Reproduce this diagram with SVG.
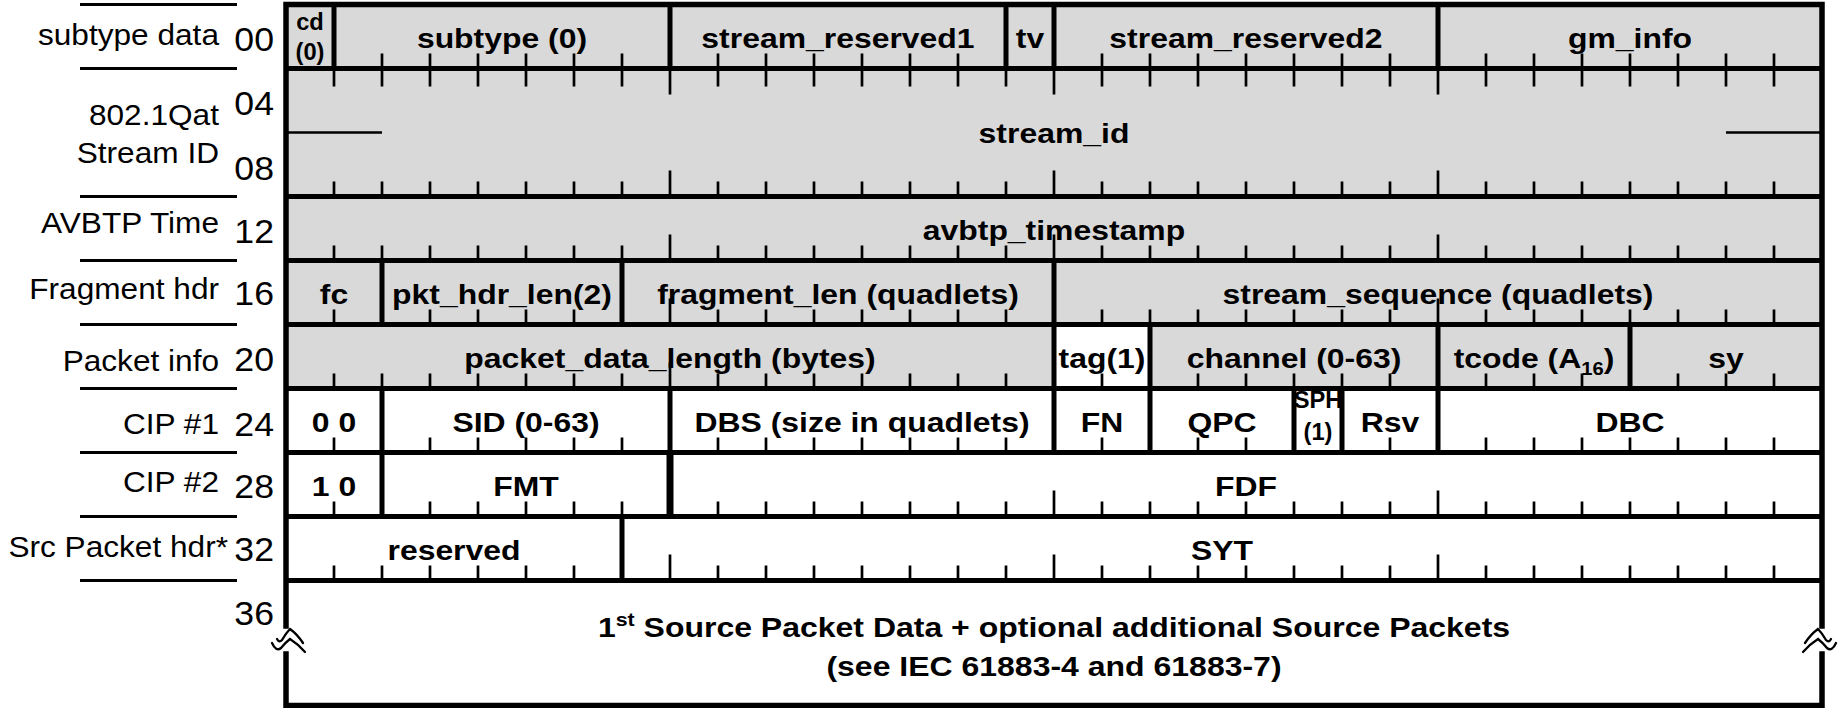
<svg xmlns="http://www.w3.org/2000/svg" xmlns:xlink="http://www.w3.org/1999/xlink" width="1843" height="708" viewBox="0 0 1843 708">
<style>
text { font-family: "Liberation Sans", Arial, Helvetica, sans-serif; fill: #000; }
.f { font-weight: bold; font-size: 28.5px; text-anchor: middle; transform-box: fill-box; transform-origin: 50% 50%; transform: scaleX(1.12); }
.sm { font-size: 23px; transform: scaleX(1.03); }
.big { font-size: 27px; transform: scaleX(1.185); }
.lb { font-size: 29px; text-anchor: end; transform-box: fill-box; transform-origin: 100% 50%; transform: scaleX(1.09); }
.nm { font-size: 33px; transform: scaleX(1.08); }
.g { fill: #d9d9d9; }
.w { fill: #ffffff; }
.ln { stroke: #000; stroke-width: 5; fill: none; }
.tk { stroke: #000; stroke-width: 2.7; fill: none; }
.thin { stroke: #000; stroke-width: 2.5; fill: none; }
.brk { stroke: #000; stroke-width: 2.3; fill: none; stroke-linecap: round; }
.ll { stroke: #000; stroke-width: 3; fill: none; }
</style>
<defs>
<path id="tu" class="tk" d="M334 0v-15M382 0v-15M430 0v-15M478 0v-15M526 0v-15M574 0v-15M622 0v-15M670 0v-26M718 0v-15M766 0v-15M814 0v-15M862 0v-15M910 0v-15M958 0v-15M1006 0v-15M1054 0v-26M1102 0v-15M1150 0v-15M1198 0v-15M1246 0v-15M1294 0v-15M1342 0v-15M1390 0v-15M1438 0v-26M1486 0v-15M1534 0v-15M1582 0v-15M1630 0v-15M1678 0v-15M1726 0v-15M1774 0v-15"/>
<path id="td" class="tk" d="M334 0v18M382 0v18M430 0v18M478 0v18M526 0v18M574 0v18M622 0v18M670 0v26M718 0v18M766 0v18M814 0v18M862 0v18M910 0v18M958 0v18M1006 0v18M1054 0v26M1102 0v18M1150 0v18M1198 0v18M1246 0v18M1294 0v18M1342 0v18M1390 0v18M1438 0v26M1486 0v18M1534 0v18M1582 0v18M1630 0v18M1678 0v18M1726 0v18M1774 0v18"/>
<path id="brk" class="brk" d="M-9,13Q-7,17 -4,14Q0,7 4,3Q11,8 17,17M-14,17Q-10,26 -5,22Q0,16 4,13Q12,18 19,26"/>
</defs>
<rect x="0" y="0" width="1843" height="708" fill="#fff"/>

<!-- row 00 -->
<g id="n-cd"><rect class="g" x="286" y="4.5" width="48" height="64"/><text class="f sm" x="310" y="30">cd</text><text class="f sm" x="310" y="60">(0)</text></g>
<g id="n-subtype"><rect class="g" x="334" y="4.5" width="336" height="64"/><text class="f" x="502" y="48">subtype (0)</text></g>
<g id="n-stream-reserved1"><rect class="g" x="670" y="4.5" width="336" height="64"/><text class="f" x="838" y="48">stream_reserved1</text></g>
<g id="n-tv"><rect class="g" x="1006" y="4.5" width="48" height="64"/><text class="f" x="1030" y="48">tv</text></g>
<g id="n-stream-reserved2"><rect class="g" x="1054" y="4.5" width="384" height="64"/><text class="f" x="1246" y="48">stream_reserved2</text></g>
<g id="n-gm-info"><rect class="g" x="1438" y="4.5" width="384" height="64"/><text class="f" x="1630" y="48">gm_info</text></g>
<!-- rows 04-08 -->
<g id="n-stream-id"><rect class="g" x="286" y="68.5" width="1536" height="128"/><text class="f" x="1054" y="143.5">stream_id</text></g>
<!-- row 12 -->
<g id="n-avbtp-timestamp"><rect class="g" x="286" y="196.5" width="1536" height="64"/><text class="f" x="1054" y="240">avbtp_timestamp</text></g>
<!-- row 16 -->
<g id="n-fc"><rect class="g" x="286" y="260.5" width="96" height="64"/><text class="f" x="334" y="304">fc</text></g>
<g id="n-pkt-hdr-len"><rect class="g" x="382" y="260.5" width="240" height="64"/><text class="f" x="502" y="304">pkt_hdr_len(2)</text></g>
<g id="n-fragment-len"><rect class="g" x="622" y="260.5" width="432" height="64"/><text class="f" x="838" y="304">fragment_len (quadlets)</text></g>
<g id="n-stream-sequence"><rect class="g" x="1054" y="260.5" width="768" height="64"/><text class="f" x="1438" y="304">stream_sequence (quadlets)</text></g>
<!-- row 20 -->
<g id="n-packet-data-length"><rect class="g" x="286" y="324.5" width="768" height="64"/><text class="f" x="670" y="368">packet_data_length (bytes)</text></g>
<g id="n-tag"><rect class="w" x="1054" y="324.5" width="96" height="64"/><text class="f" x="1102" y="368">tag(1)</text></g>
<g id="n-channel"><rect class="g" x="1150" y="324.5" width="288" height="64"/><text class="f" x="1294" y="368">channel (0-63)</text></g>
<g id="n-tcode"><rect class="g" x="1438" y="324.5" width="192" height="64"/><text class="f" x="1534" y="368">tcode (A<tspan font-size="18" dy="7">16</tspan><tspan dy="-7">)</tspan></text></g>
<g id="n-sy"><rect class="g" x="1630" y="324.5" width="192" height="64"/><text class="f" x="1726" y="368">sy</text></g>
<!-- row 24 CIP #1 -->
<g id="n-cip1-00"><rect class="w" x="286" y="388.5" width="96" height="64"/><text class="f" x="334" y="432">0 0</text></g>
<g id="n-sid"><rect class="w" x="382" y="388.5" width="288" height="64"/><text class="f" x="526" y="432">SID (0-63)</text></g>
<g id="n-dbs"><rect class="w" x="670" y="388.5" width="384" height="64"/><text class="f" x="862" y="432">DBS (size in quadlets)</text></g>
<g id="n-fn"><rect class="w" x="1054" y="388.5" width="96" height="64"/><text class="f" x="1102" y="432">FN</text></g>
<g id="n-qpc"><rect class="w" x="1150" y="388.5" width="144" height="64"/><text class="f" x="1222" y="432">QPC</text></g>
<g id="n-sph"><rect class="w" x="1294" y="388.5" width="48" height="64"/><text class="f sm" x="1318" y="408">SPH</text><text class="f sm" x="1318" y="440">(1)</text></g>
<g id="n-rsv"><rect class="w" x="1342" y="388.5" width="96" height="64"/><text class="f" x="1390" y="432">Rsv</text></g>
<g id="n-dbc"><rect class="w" x="1438" y="388.5" width="384" height="64"/><text class="f" x="1630" y="432">DBC</text></g>
<!-- row 28 CIP #2 -->
<g id="n-cip2-10"><rect class="w" x="286" y="452.5" width="96" height="64"/><text class="f" x="334" y="496">1 0</text></g>
<g id="n-fmt"><rect class="w" x="382" y="452.5" width="288" height="64"/><text class="f" x="526" y="496">FMT</text></g>
<g id="n-fdf"><rect class="w" x="670" y="452.5" width="1152" height="64"/><text class="f" x="1246" y="496">FDF</text></g>
<!-- row 32 -->
<g id="n-reserved"><rect class="w" x="286" y="516.5" width="336" height="64"/><text class="f" x="454" y="560">reserved</text></g>
<g id="n-syt"><rect class="w" x="622" y="516.5" width="1200" height="64"/><text class="f" x="1222" y="560">SYT</text></g>
<!-- row 36 -->
<g id="n-payload"><rect class="w" x="286" y="580.5" width="1536" height="125"/>
<text class="f big" x="1054" y="637">1<tspan font-size="18" dy="-11">st</tspan><tspan dy="11"> Source Packet Data + optional additional Source Packets</tspan></text>
<text class="f big" x="1054" y="676">(see IEC 61883-4 and 61883-7)</text></g>

<g id="connectors">
<use xlink:href="#tu" href="#tu" y="68.5"/>
<use xlink:href="#td" href="#td" y="68.5"/>
<use xlink:href="#tu" href="#tu" y="196.5"/>
<use xlink:href="#tu" href="#tu" y="260.5"/>
<use xlink:href="#tu" href="#tu" y="324.5"/>
<use xlink:href="#tu" href="#tu" y="388.5"/>
<use xlink:href="#tu" href="#tu" y="452.5"/>
<use xlink:href="#tu" href="#tu" y="516.5"/>
<use xlink:href="#tu" href="#tu" y="580.5"/>
<path class="thin" d="M286,132.5H382M1726,132.5H1822"/>
<path class="ln" d="M286,68.5H1822M286,196.5H1822M286,260.5H1822M286,324.5H1822M286,388.5H1822M286,452.5H1822M286,516.5H1822M286,580.5H1822"/>
<path class="ln" d="M334,4.5V68.5M670,4.5V68.5M1006,4.5V68.5M1054,4.5V68.5M1438,4.5V68.5M382,260.5V324.5M622,260.5V324.5M1054,260.5V324.5M1054,324.5V388.5M1150,324.5V388.5M1438,324.5V388.5M1630,324.5V388.5M382,388.5V452.5M670,388.5V452.5M1054,388.5V452.5M1150,388.5V452.5M1294,388.5V452.5M1342,388.5V452.5M1438,388.5V452.5M382,452.5V516.5M622,516.5V580.5"/>
<path class="ln" style="stroke-width:7" d="M670,452.5V516.5"/>
<path class="ln" style="stroke-width:5.5;stroke-linecap:square" d="M286,4.5H1822V626M1822,654V705.5H286V654M286,626V4.5"/>
<use xlink:href="#brk" href="#brk" transform="translate(286,626)"/>
<use xlink:href="#brk" href="#brk" transform="translate(1822,626) scale(-1,1)"/>
<path class="ll" d="M80,4.5H237M80,68.5H237M80,196.5H237M80,260.5H237M80,324.5H237M80,388.5H237M80,452.5H237M80,516.5H237M80,580.5H237"/>
</g>

<g id="labels">
<text class="lb" x="219" y="45">subtype data</text>
<text class="lb" x="219" y="125">802.1Qat</text>
<text class="lb" x="219" y="163">Stream ID</text>
<text class="lb" x="219" y="233">AVBTP Time</text>
<text class="lb" x="219" y="299">Fragment hdr</text>
<text class="lb" x="219" y="371">Packet info</text>
<text class="lb" x="219" y="434">CIP #1</text>
<text class="lb" x="219" y="492">CIP #2</text>
<text class="lb" x="228" y="557">Src Packet hdr*</text>
<text class="lb nm" x="274" y="51.5">00</text>
<text class="lb nm" x="274" y="115">04</text>
<text class="lb nm" x="274" y="180">08</text>
<text class="lb nm" x="274" y="243">12</text>
<text class="lb nm" x="274" y="305">16</text>
<text class="lb nm" x="274" y="371.5">20</text>
<text class="lb nm" x="274" y="436.5">24</text>
<text class="lb nm" x="274" y="498">28</text>
<text class="lb nm" x="274" y="561.5">32</text>
<text class="lb nm" x="274" y="625">36</text>
</g>
</svg>
